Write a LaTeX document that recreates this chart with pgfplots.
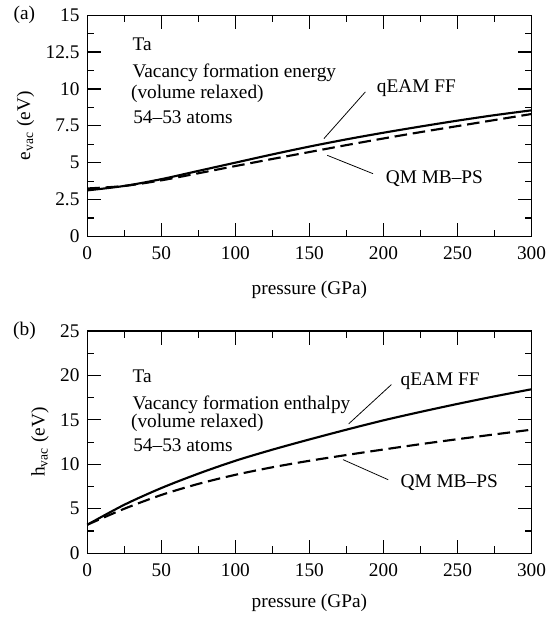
\documentclass[border=0pt]{standalone}
\usepackage{fontspec}
\setmainfont{Liberation Serif}
\usepackage{pgfplots}
\pgfplotsset{compat=1.18}

\pgfplotsset{
  panel/.style={
    width=230pt, scale only axis,
    xmin=0, xmax=300, xtick={0,50,...,300}, minor x tick num=1,
    minor y tick num=1,
    tick align=inside,
    major tick length=7pt, minor tick length=3.5pt,
    axis line style={line width=0.7pt},
    every tick/.style={black, line width=0.6pt},
    /pgf/number format/assume math mode=true,
    xticklabel style={yshift=-2pt},
    yticklabel style={xshift=-0.5pt},
    xlabel={pressure (GPa)},
    ylabel style={yshift=-1pt},
    clip=false,
  },
}
\tikzset{
  qeam/.style={black, line width=1.1pt, smooth},
  qm/.style={black, line width=1.1pt, smooth, dash pattern=on 6.5pt off 3pt},
  lead/.style={black, line width=0.4pt},
}

\begin{document}
\fontsize{10}{12}\selectfont
\begin{tikzpicture}
% (a) energy
\begin{axis}[panel, name=top, height=114.5pt,
    xlabel style={yshift=-4pt},
    ymin=0, ymax=15, ytick={0,2.5,...,15},
    ylabel={e\textsubscript{vac} (eV)}]
  \addplot[qeam] coordinates {
    (0,3.12) (25,3.42) (50,3.88) (75,4.44) (100,5.0) (125,5.56) (150,6.09)
    (175,6.58) (200,7.03) (225,7.45) (250,7.85) (275,8.22) (300,8.55)};
  \addplot[qm] coordinates {
    (0,3.25) (25,3.42) (50,3.8) (75,4.28) (100,4.77) (125,5.25) (150,5.72)
    (175,6.19) (200,6.64) (225,7.07) (250,7.48) (275,7.89) (300,8.3)};
  \node[anchor=west] at (26,13.0) {Ta};
  \node[anchor=west] at (26,11.1) {Vacancy formation energy};
  \node[anchor=west] at (25,9.64) {(volume relaxed)};
  \node[anchor=west] at (26.5,8.1) {54–53 atoms};
  \node[anchor=west] at (191,10.02) {qEAM FF};
  \draw[lead] (187.8,9.8) -- (159.8,6.63);
  \node[anchor=west] at (197,3.91) {QM MB–PS};
  \draw[lead] (162,5.5) -- (193,4.25);
  \node at (rel axis cs:0,1) [xshift=-32.5pt] {(a)};
\end{axis}
% (b) enthalpy
\begin{axis}[panel, at={(top.north west)}, anchor=north west, yshift=-163.5pt,
    height=115pt, xlabel style={yshift=-2pt},
    ymin=0, ymax=25, ytick={0,5,...,25},
    ylabel={h\textsubscript{vac} (eV)}]
  \addplot[qeam] coordinates {
    (0,3.2) (25,5.45) (50,7.33) (75,8.95) (100,10.4) (125,11.65) (150,12.8)
    (175,13.9) (200,14.95) (225,15.9) (250,16.8) (275,17.65) (300,18.45)};
  \addplot[qm] coordinates {
    (0,3.2) (25,5.0) (50,6.55) (75,7.8) (100,8.82) (125,9.67) (150,10.4)
    (175,11.05) (200,11.67) (225,12.27) (250,12.83) (275,13.37) (300,13.9)};
  \node[anchor=west] at (26,19.9) {Ta};
  \node[anchor=west] at (26,16.73) {Vacancy formation enthalpy};
  \node[anchor=west] at (25,14.66) {(volume relaxed)};
  \node[anchor=west] at (26.5,12.2) {54–53 atoms};
  \node[anchor=west] at (207,19.36) {qEAM FF};
  \draw[lead] (205.4,18.98) -- (176.5,14.55);
  \node[anchor=west] at (207,7.9) {QM MB–PS};
  \draw[lead] (172.7,10.53) -- (203.2,8.27);
  \node at (rel axis cs:0,1) [xshift=-32.5pt] {(b)};
\end{axis}
\path ([xshift=-3.5pt]current bounding box.west);
\end{tikzpicture}
\end{document}
